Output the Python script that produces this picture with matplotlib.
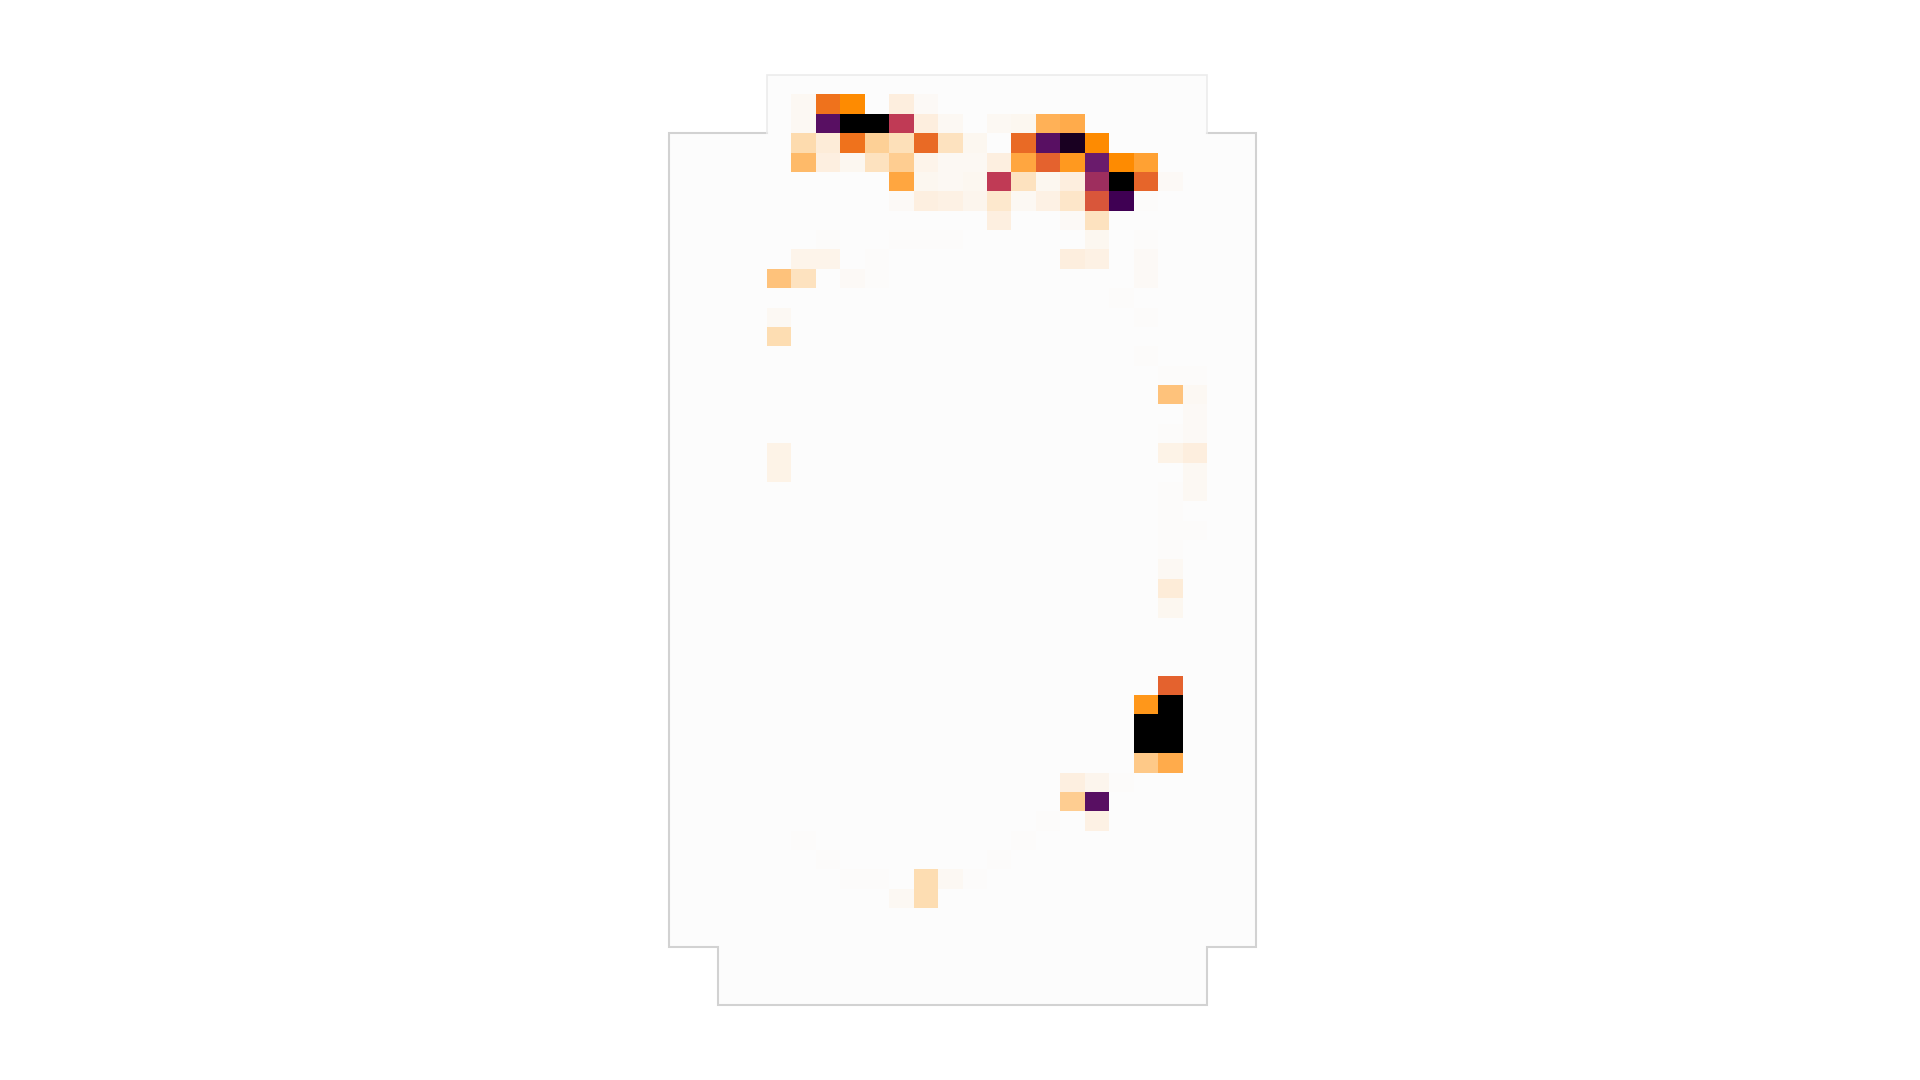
import numpy as np
import matplotlib
matplotlib.use("Agg")
import matplotlib.pyplot as plt
from matplotlib.colors import LinearSegmentedColormap

# Grid size (rows x cols) and floor-plan sections: (row_start, row_end, col_start, col_end)
n_rows, n_cols = 48, 24
sections = [(0, 3, 4, 22), (3, 45, 0, 24), (45, 48, 2, 22)]

# Non-zero cell values (0-100)
hot_rows = [1, 1, 1, 1, 1,
            2, 2, 2, 2, 2, 2, 2, 2, 2, 2, 2,
            3, 3, 3, 3, 3, 3, 3, 3, 3, 3, 3, 3,
            4, 4, 4, 4, 4, 4, 4, 4, 4, 4, 4, 4, 4, 4, 4,
            5, 5, 5, 5, 5, 5, 5, 5, 5, 5, 5, 5,
            6, 6, 6, 6, 6, 6, 6, 6, 6, 6, 6,
            7, 7, 7,
            8, 8, 8, 8, 8, 8,
            9, 9, 9, 9, 9, 9,
            10, 10, 10, 10, 10,
            11, 12, 12, 13, 14, 15, 15, 16, 16, 17, 18, 18,
            19, 19, 19, 20, 20, 21, 21, 22, 23, 23, 24, 25, 26, 27,
            31, 32, 32, 33, 33, 34, 34, 35, 35,
            36, 36, 36, 37, 37, 38, 38, 39, 39, 40, 40,
            41, 41, 41, 41, 41, 42, 42]
hot_cols = [5, 6, 7, 9, 10,
            5, 6, 7, 8, 9, 10, 11, 13, 14, 15, 16,
            5, 6, 7, 8, 9, 10, 11, 12, 14, 15, 16, 17,
            5, 6, 7, 8, 9, 10, 11, 12, 13, 14, 15, 16, 17, 18, 19,
            9, 10, 11, 12, 13, 14, 15, 16, 17, 18, 19, 20,
            9, 10, 11, 12, 13, 14, 15, 16, 17, 18, 19,
            13, 16, 17,
            6, 9, 10, 11, 17, 19,
            5, 6, 8, 16, 17, 19,
            4, 5, 7, 8, 19,
            18, 4, 19, 4, 19, 20, 21, 20, 21, 21, 20, 21,
            4, 20, 21, 4, 21, 20, 21, 20, 20, 21, 20, 20, 20, 20,
            20, 19, 20, 19, 20, 19, 20, 19, 20,
            16, 17, 18, 16, 17, 15, 17, 5, 14, 6, 13,
            7, 8, 10, 11, 12, 9, 10]
hot_vals = [3, 56, 50, 10, 2,
            3, 84, 100, 100, 70, 10, 3, 3, 4, 36, 38,
            19, 11, 56, 24, 17, 58, 16, 4, 58, 84, 96, 50,
            33, 9, 4, 16, 25, 6, 3, 3, 9, 40, 60, 45, 80, 50, 42,
            40, 4, 3, 4, 70, 16, 4, 10, 74, 100, 59, 2,
            2, 9, 8, 5, 13, 3, 8, 14, 63, 90, 1,
            9, 2, 16,
            1, 1, 1, 1, 4, 1,
            6, 6, 1, 10, 8, 2,
            30, 16, 2, 1, 2,
            1, 3, 1, 18, 1, 1, 1, 30, 3, 2, 1, 2,
            7, 7, 10, 7, 3, 1, 3, 1, 1, 1, 1, 3, 11, 4,
            60, 46, 100, 100, 100, 100, 100, 27, 38,
            9, 5, 1, 25, 84, 1, 8, 1, 1, 1, 1,
            1, 1, 18, 3, 1, 3, 18]

# Build grid
mask = np.zeros((n_rows, n_cols), dtype=bool)
for r0, r1, c0, c1 in sections:
    mask[r0:r1, c0:c1] = True
grid = np.zeros((n_rows, n_cols))
for r, c, v in zip(hot_rows, hot_cols, hot_vals):
    grid[r, c] = v
grid = np.ma.masked_where(~mask, grid)

cmap = LinearSegmentedColormap.from_list("heat", [
    (0.00, "#fcfcfc"), (0.10, "#fdeedd"), (0.20, "#fdd9a8"), (0.30, "#fec27a"),
    (0.40, "#ffa640"), (0.50, "#ff8c00"), (0.60, "#e4622e"), (0.70, "#c23b55"),
    (0.80, "#6a1b6c"), (0.90, "#400055"), (1.00, "#000000")])
cmap.set_bad((1, 1, 1, 0))

W, H = 1920, 1080
fig = plt.figure(figsize=(W / 100, H / 100), dpi=100)
x0, x1, y0, y1 = 668.6, 1256.4, 75.0, 1005.0
ax = fig.add_axes([x0 / W, 1 - y1 / H, (x1 - x0) / W, (y1 - y0) / H])
ax.pcolormesh(np.arange(n_cols + 1), np.arange(n_rows + 1), grid,
              cmap=cmap, vmin=0, vmax=100, shading="flat")

# Outline from sections: left side downward, right side upward
xs, ys = [], []
for r0, r1, c0, c1 in sections:
    xs += [c0, c0]; ys += [r0, r1]
for r0, r1, c0, c1 in reversed(sections):
    xs += [c1, c1]; ys += [r1, r0]
top = sections[0]
# main walls (skip the top section, drawn fainter)
ax.plot(xs[1:-1], ys[1:-1], color="#d2d2d2", lw=1.5, solid_joinstyle="miter", clip_on=False)
ax.plot([top[2], top[2], top[3], top[3]], [top[1], top[0], top[0], top[1]],
        color="#ececec", lw=1.2, solid_joinstyle="miter", clip_on=False)

ax.set_xlim(0, n_cols)
ax.set_ylim(n_rows, 0)
ax.axis("off")
fig.savefig("out.png", dpi=100, facecolor="white")
